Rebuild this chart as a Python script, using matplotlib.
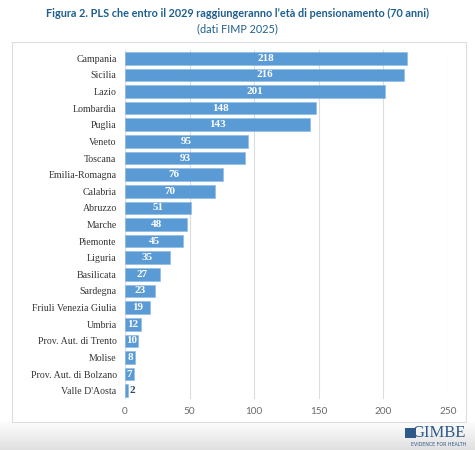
import numpy as np
import matplotlib.pyplot as plt
from matplotlib.patches import Rectangle

regions = ["Campania", "Sicilia", "Lazio", "Lombardia", "Puglia", "Veneto", "Toscana",
           "Emilia-Romagna", "Calabria", "Abruzzo", "Marche", "Piemonte", "Liguria",
           "Basilicata", "Sardegna", "Friuli Venezia Giulia", "Umbria",
           "Prov. Aut. di Trento", "Molise", "Prov. Aut. di Bolzano", "Valle D'Aosta"]
values = [218, 216, 201, 148, 143, 95, 93, 76, 70, 51, 48, 45, 35, 27, 23, 19, 12, 10, 8, 7, 2]
xticks = [0, 50, 100, 150, 200, 250]

title = "Figura 2. PLS che entro il 2029 raggiungeranno l\u2019et\u00e0 di pensionamento (70 anni)"
subtitle = "(dati FIMP 2025)"

bar_col = "#5b9bd5"
title_col = "#1f5f8f"
serif = "Liberation Serif"

fig = plt.figure(figsize=(4.75, 4.5), dpi=100)

# light grey shading at the bottom of the page
bg = fig.add_axes([0, 0, 1, 1], zorder=-2)
t = np.linspace(0, 1, 64).reshape(-1, 1)
shade = 1 - 0.12 * t  # white at top -> light grey at bottom
img = np.dstack([shade, shade, shade])
bg.imshow(img, extent=[0, 1, 0, 0.065], aspect="auto", origin="upper")
bg.set_xlim(0, 1)
bg.set_ylim(0, 1)
bg.axis("off")

# chart frame
fig.patches.append(Rectangle((12 / 475, 1 - 422 / 450), (466 - 12) / 475, (422 - 42) / 450,
                             transform=fig.transFigure, fill=True, facecolor="white",
                             edgecolor="#dddddd", lw=0.8, zorder=-1))

n = len(regions)
ax = fig.add_axes([125 / 475, 1 - 399 / 450, 323 / 475, 349 / 450])
ax.set_facecolor("none")
y = np.arange(n)
ax.barh(y, values, height=0.76, color=bar_col, edgecolor="#8ab8e4", lw=0.4, zorder=2)
ax.set_ylim(n - 0.5, -0.5)
ax.set_xlim(0, 250)
ax.set_xticks(xticks)
ax.set_yticks(y)
ax.set_yticklabels(regions, family=serif, fontsize=7.1, color="#333333")
for lab in ax.get_xticklabels():
    lab.set_family("Lato")
    lab.set_fontsize(7.2)
    lab.set_color("#6a6a6a")
ax.tick_params(length=0)
ax.tick_params(axis="y", pad=6)
ax.tick_params(axis="x", pad=6)
ax.grid(axis="x", color="#dcdcdc", lw=0.8, zorder=0)
for s in ax.spines.values():
    s.set_visible(False)

for i, v in enumerate(values):
    if v >= 5:
        ax.text(v / 2, i, str(v), ha="center", va="center", color="white",
                fontsize=8, fontweight="bold", family=serif, zorder=3)
    else:
        ax.text(v + 1.5, i, str(v), ha="left", va="center", color="#2f4a6a",
                fontsize=8, fontweight="bold", family=serif, zorder=3)

fig.text(0.5, 1 - 13 / 450, title, ha="center", va="center", fontsize=7.8,
         fontweight="bold", color=title_col, family="Lato")
fig.text(0.5, 1 - 29 / 450, subtitle, ha="center", va="center", fontsize=7.8,
         color=title_col, family="Lato")

# logo
fig.text(466 / 475, 1 - 433 / 450, "GIMBE", ha="right", va="center", fontsize=12,
         color="#2e5a8a", family=serif)
fig.patches.append(Rectangle((405 / 475, 1 - 438 / 450), 11 / 475, 10 / 450,
                             transform=fig.transFigure, facecolor="#2e5a8a", lw=0))
fig.text(466 / 475, 1 - 444 / 450, "EVIDENCE FOR HEALTH", ha="right", va="center",
         fontsize=3.4, color="#2e5a8a", family="DejaVu Sans")

fig.savefig("out.png", dpi=100)
